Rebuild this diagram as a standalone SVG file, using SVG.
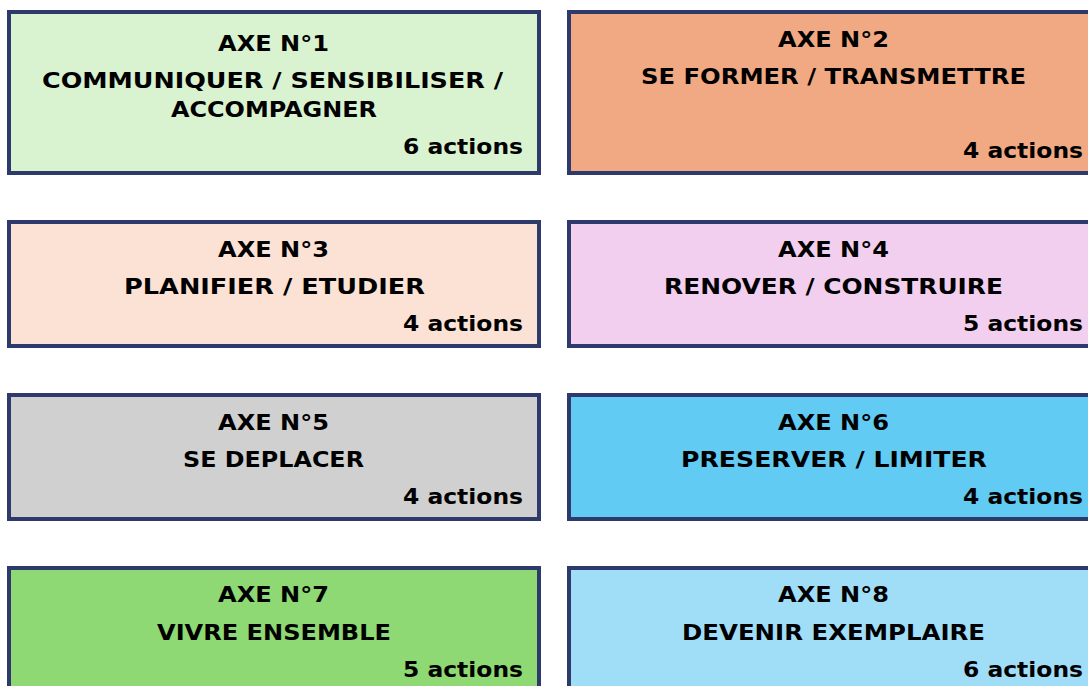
<svg xmlns="http://www.w3.org/2000/svg" width="1088" height="686" viewBox="0 0 1088 686">
<style>
.box{stroke:#2E3A6B;stroke-width:4}
text{font-family:"DejaVu Sans",Verdana,sans-serif;font-weight:bold;font-size:21.5px;fill:#000}
.c{text-anchor:middle}
.r{text-anchor:end}
</style>
<rect width="1088" height="686" fill="#fff"/>
<g id="axe1">
<rect class="box" x="9" y="12" width="530" height="161" fill="#D9F2D0"/>
<text class="c" x="273.5" y="51" textLength="111" lengthAdjust="spacingAndGlyphs">AXE N°1</text>
<text class="c" x="272.5" y="88" textLength="461" lengthAdjust="spacingAndGlyphs">COMMUNIQUER / SENSIBILISER /</text>
<text class="c" x="274" y="117" textLength="206" lengthAdjust="spacingAndGlyphs">ACCOMPAGNER</text>
<text class="r" x="523" y="154" textLength="120" lengthAdjust="spacingAndGlyphs">6 actions</text>
</g>
<g id="axe2">
<rect class="box" x="569" y="12" width="530" height="161" fill="#F1A983"/>
<text class="c" x="833.5" y="47" textLength="111" lengthAdjust="spacingAndGlyphs">AXE N°2</text>
<text class="c" x="833.5" y="84" textLength="385" lengthAdjust="spacingAndGlyphs">SE FORMER / TRANSMETTRE</text>
<text class="r" x="1083" y="158" textLength="120" lengthAdjust="spacingAndGlyphs">4 actions</text>
</g>
<g id="axe3">
<rect class="box" x="9" y="222" width="530" height="124" fill="#FBE2D5"/>
<text class="c" x="273.5" y="257" textLength="111" lengthAdjust="spacingAndGlyphs">AXE N°3</text>
<text class="c" x="274.5" y="294" textLength="301" lengthAdjust="spacingAndGlyphs">PLANIFIER / ETUDIER</text>
<text class="r" x="523" y="331" textLength="120" lengthAdjust="spacingAndGlyphs">4 actions</text>
</g>
<g id="axe4">
<rect class="box" x="569" y="222" width="530" height="124" fill="#F2CFEE"/>
<text class="c" x="833.5" y="257" textLength="111" lengthAdjust="spacingAndGlyphs">AXE N°4</text>
<text class="c" x="833.5" y="294" textLength="339" lengthAdjust="spacingAndGlyphs">RENOVER / CONSTRUIRE</text>
<text class="r" x="1083" y="331" textLength="120" lengthAdjust="spacingAndGlyphs">5 actions</text>
</g>
<g id="axe5">
<rect class="box" x="9" y="395" width="530" height="124" fill="#D0D0D0"/>
<text class="c" x="273.5" y="430" textLength="111" lengthAdjust="spacingAndGlyphs">AXE N°5</text>
<text class="c" x="273.5" y="467" textLength="181" lengthAdjust="spacingAndGlyphs">SE DEPLACER</text>
<text class="r" x="523" y="504" textLength="120" lengthAdjust="spacingAndGlyphs">4 actions</text>
</g>
<g id="axe6">
<rect class="box" x="569" y="395" width="530" height="124" fill="#61CBF3"/>
<text class="c" x="833.5" y="430" textLength="111" lengthAdjust="spacingAndGlyphs">AXE N°6</text>
<text class="c" x="834" y="467" textLength="306" lengthAdjust="spacingAndGlyphs">PRESERVER / LIMITER</text>
<text class="r" x="1083" y="504" textLength="120" lengthAdjust="spacingAndGlyphs">4 actions</text>
</g>
<g id="axe7">
<rect class="box" x="9" y="568" width="530" height="124" fill="#8ED973"/>
<text class="c" x="273.5" y="602" textLength="111" lengthAdjust="spacingAndGlyphs">AXE N°7</text>
<text class="c" x="274" y="640" textLength="234" lengthAdjust="spacingAndGlyphs">VIVRE ENSEMBLE</text>
<text class="r" x="523" y="677" textLength="120" lengthAdjust="spacingAndGlyphs">5 actions</text>
</g>
<g id="axe8">
<rect class="box" x="569" y="568" width="530" height="124" fill="#A0DEF8"/>
<text class="c" x="833.5" y="602" textLength="111" lengthAdjust="spacingAndGlyphs">AXE N°8</text>
<text class="c" x="833.5" y="640" textLength="303" lengthAdjust="spacingAndGlyphs">DEVENIR EXEMPLAIRE</text>
<text class="r" x="1083" y="677" textLength="120" lengthAdjust="spacingAndGlyphs">6 actions</text>
</g>
<g id="connectors"/>
</svg>
